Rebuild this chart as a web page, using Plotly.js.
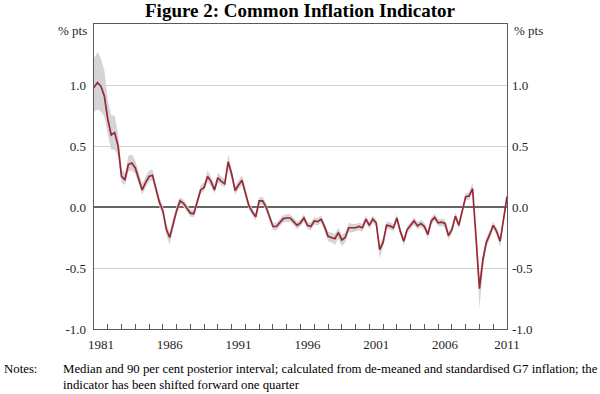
<!DOCTYPE html>
<html>
<head>
<meta charset="utf-8">
<script src="https://cdn.plot.ly/plotly-3.0.1.min.js"></script>
<style>html,body{margin:0;padding:0;background:#fff;}#chart{width:600px;height:394px;}</style>
</head>
<body>
<div id="chart"></div>
<script>
// Quarterly data, 1981 Q1 to 2011 Q1
const startYear = 1981;
const median = [
  0.98, 1.02, 0.99, 0.91, 0.72, 0.59, 0.61, 0.50,
  0.25, 0.225, 0.35, 0.36, 0.32, 0.225, 0.14, 0.20,
  0.25, 0.26, 0.14, 0.04, -0.03, -0.18, -0.25, -0.13,
  -0.03, 0.05, 0.03, -0.01, -0.05, -0.055, 0.05, 0.14,
  0.16, 0.25, 0.21, 0.14, 0.24, 0.21, 0.19, 0.37,
  0.27, 0.135, 0.18, 0.22, 0.115, 0.01, -0.04, -0.08,
  0.05, 0.05, 0.0, -0.085, -0.16, -0.16, -0.13, -0.095,
  -0.09, -0.09, -0.12, -0.15, -0.13, -0.09, -0.15, -0.16,
  -0.115, -0.12, -0.10, -0.16, -0.24, -0.25, -0.26, -0.21,
  -0.27, -0.25, -0.17, -0.17, -0.17, -0.16, -0.17, -0.10,
  -0.15, -0.10, -0.13, -0.35, -0.29, -0.15, -0.155, -0.17,
  -0.09, -0.20, -0.28, -0.185, -0.15, -0.115, -0.155, -0.135,
  -0.16, -0.225, -0.115, -0.085, -0.13, -0.125, -0.135, -0.235,
  -0.185, -0.075, -0.15, -0.02, 0.085, 0.09, 0.15, -0.25,
  -0.67, -0.43, -0.29, -0.225, -0.15, -0.20, -0.28, -0.10,
  0.085
];
const lower90 = [
  0.78, 0.80, 0.78, 0.74, 0.60, 0.47, 0.47, 0.42,
  0.20, 0.18, 0.29, 0.30, 0.27, 0.18, 0.10, 0.16,
  0.21, 0.22, 0.10, 0.00, -0.07, -0.23, -0.31, -0.17,
  -0.07, 0.02, 0.00, -0.04, -0.08, -0.085, 0.02, 0.11,
  0.13, 0.21, 0.17, 0.11, 0.20, 0.18, 0.16, 0.32,
  0.23, 0.10, 0.15, 0.18, 0.08, -0.02, -0.07, -0.11,
  0.02, 0.02, -0.03, -0.115, -0.19, -0.19, -0.16, -0.125,
  -0.12, -0.12, -0.15, -0.18, -0.16, -0.12, -0.18, -0.19,
  -0.145, -0.15, -0.13, -0.20, -0.28, -0.29, -0.31, -0.26,
  -0.32, -0.29, -0.21, -0.21, -0.20, -0.19, -0.20, -0.13,
  -0.18, -0.13, -0.16, -0.42, -0.33, -0.18, -0.185, -0.20,
  -0.12, -0.23, -0.32, -0.215, -0.18, -0.145, -0.185, -0.165,
  -0.19, -0.26, -0.145, -0.115, -0.16, -0.155, -0.165, -0.27,
  -0.215, -0.105, -0.18, -0.05, 0.055, 0.06, 0.12, -0.31,
  -0.83, -0.51, -0.33, -0.26, -0.18, -0.23, -0.33, -0.13,
  0.05
];
const upper90 = [
  1.22, 1.27, 1.22, 1.12, 0.88, 0.75, 0.75, 0.60,
  0.31, 0.28, 0.42, 0.43, 0.38, 0.28, 0.19, 0.25,
  0.30, 0.31, 0.18, 0.08, 0.01, -0.14, -0.21, -0.09,
  0.01, 0.08, 0.06, 0.02, -0.02, -0.025, 0.08, 0.18,
  0.20, 0.30, 0.25, 0.18, 0.28, 0.25, 0.23, 0.43,
  0.31, 0.17, 0.22, 0.26, 0.15, 0.04, -0.01, -0.05,
  0.08, 0.08, 0.03, -0.055, -0.13, -0.13, -0.10, -0.065,
  -0.06, -0.06, -0.09, -0.12, -0.10, -0.06, -0.12, -0.13,
  -0.085, -0.09, -0.07, -0.13, -0.20, -0.21, -0.22, -0.17,
  -0.23, -0.21, -0.13, -0.14, -0.14, -0.13, -0.14, -0.07,
  -0.12, -0.07, -0.10, -0.31, -0.25, -0.12, -0.125, -0.14,
  -0.06, -0.17, -0.25, -0.155, -0.12, -0.085, -0.125, -0.105,
  -0.13, -0.19, -0.085, -0.055, -0.10, -0.095, -0.105, -0.20,
  -0.155, -0.045, -0.12, 0.01, 0.115, 0.12, 0.20, -0.21,
  -0.58, -0.38, -0.25, -0.19, -0.12, -0.17, -0.25, -0.07,
  0.12
];
const yTickVals = [-1, -0.5, 0, 0.5, 1];
const yTickText = ["-1.0", "-0.5", "0.0", "0.5", "1.0"];
const xLabelVals = [1981.5, 1986.5, 1991.5, 1996.5, 2001.5, 2006.5, 2011];
const xLabelText = ["1981", "1986", "1991", "1996", "2001", "2006", "2011"];

const xs = median.map((_, i) => startYear + i / 4);

const serif = "Liberation Serif, Times New Roman, serif";
const textColor = "#1e1e28";
const frameColor = "#5a5a5a";

const traces = [
  {x: xs, y: lower90, type: "scatter", mode: "lines", line: {width: 0, color: "rgba(0,0,0,0)"}, hoverinfo: "skip", showlegend: false},
  {x: xs, y: upper90, type: "scatter", mode: "lines", fill: "tonexty", fillcolor: "#d3d5d7", line: {width: 0, color: "rgba(0,0,0,0)"}, hoverinfo: "skip", showlegend: false},
  {x: xs, y: median, type: "scatter", mode: "lines", line: {width: 1.7, color: "#9a2733"}, showlegend: false},
  {x: xs, y: median, type: "scatter", mode: "lines", xaxis: "x2", yaxis: "y2", opacity: 0, line: {width: 0}, hoverinfo: "skip", showlegend: false}
];

const layout = {
  width: 600, height: 394,
  margin: {l: 94, r: 93, t: 24, b: 65},
  paper_bgcolor: "#ffffff", plot_bgcolor: "#ffffff",
  font: {family: serif, size: 13, color: textColor},
  showlegend: false,
  xaxis: {
    range: [1981, 2011], tick0: 1981, dtick: 1, ticks: "inside", ticklen: 5, tickwidth: 1,
    tickcolor: frameColor, showticklabels: false, showgrid: false, zeroline: false,
    showline: true, linecolor: frameColor, linewidth: 1.3, mirror: true, fixedrange: true
  },
  xaxis2: {
    overlaying: "x", anchor: "y", side: "bottom", range: [1981, 2011],
    tickmode: "array", tickvals: xLabelVals, ticktext: xLabelText, ticks: "",
    showgrid: false, zeroline: false, showline: false, ticklabelstandoff: 6,
    tickfont: {family: serif, size: 13, color: textColor}, fixedrange: true
  },
  yaxis: {
    range: [-1, 1.5], tickmode: "array", tickvals: yTickVals, ticktext: yTickText, ticks: "",
    showgrid: true, gridcolor: "#cfd2d5", gridwidth: 1,
    zeroline: true, zerolinecolor: "#666666", zerolinewidth: 1.3,
    showline: true, linecolor: frameColor, linewidth: 1.3, mirror: true,
    ticklabelstandoff: 4, tickfont: {family: serif, size: 13, color: textColor}, fixedrange: true
  },
  yaxis2: {
    overlaying: "y", anchor: "x2", side: "right", range: [-1, 1.5],
    tickmode: "array", tickvals: yTickVals, ticktext: yTickText, ticks: "",
    showgrid: false, zeroline: false, showline: false, ticklabelstandoff: 4,
    tickfont: {family: serif, size: 13, color: textColor}, fixedrange: true
  },
  annotations: [
    {text: "<b>Figure 2: Common Inflation Indicator</b>", xref: "paper", yref: "paper", x: 0.5, y: 1.045,
     xanchor: "center", yanchor: "middle", showarrow: false, font: {family: serif, size: 19, color: "#000"}},
    {text: "% pts", xref: "paper", yref: "y", x: 0, y: 1.447, xanchor: "right", yanchor: "middle",
     xshift: -5, showarrow: false, font: {family: serif, size: 13, color: textColor}},
    {text: "% pts", xref: "paper", yref: "y", x: 1, y: 1.447, xanchor: "left", yanchor: "middle",
     xshift: 5, showarrow: false, font: {family: serif, size: 13, color: textColor}},
    {text: "Notes:", xref: "paper", yref: "paper", x: -0.222, y: -0.131, xanchor: "left", yanchor: "middle",
     showarrow: false, font: {family: serif, size: 12.8, color: "#000"}},
    {text: "Median and 90 per cent posterior interval; calculated from de-meaned and standardised G7 inflation; the",
     xref: "paper", yref: "paper", x: -0.0799, y: -0.131, xanchor: "left", yanchor: "middle",
     showarrow: false, font: {family: serif, size: 12.8, color: "#000"}},
    {text: "indicator has been shifted forward one quarter",
     xref: "paper", yref: "paper", x: -0.0799, y: -0.184, xanchor: "left", yanchor: "middle",
     showarrow: false, font: {family: serif, size: 12.8, color: "#000"}}
  ]
};

Plotly.newPlot("chart", traces, layout, {staticPlot: true, displayModeBar: false});
</script>
</body>
</html>
